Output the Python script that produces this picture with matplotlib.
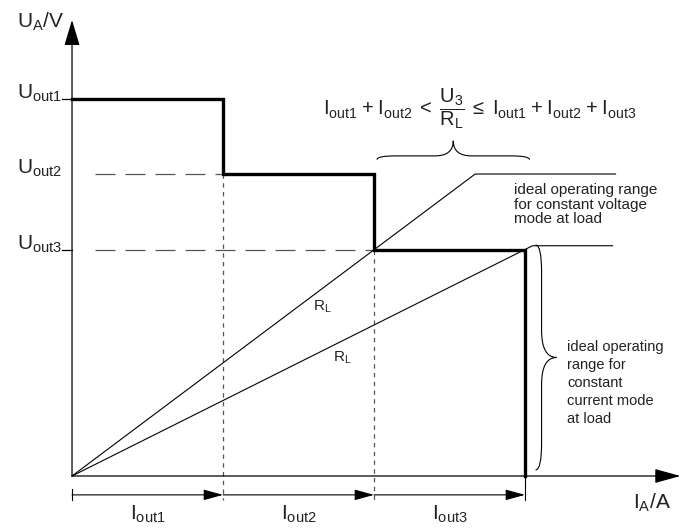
import numpy as np
import matplotlib.pyplot as plt
from matplotlib.path import Path
from matplotlib.patches import PathPatch

plt.rcParams['font.family'] = ['Liberation Sans', 'DejaVu Sans']
plt.rcParams['mathtext.fontset'] = 'custom'
plt.rcParams['mathtext.rm'] = 'Liberation Sans'
plt.rcParams['mathtext.it'] = 'Liberation Sans'

# current limits (A, schematic units) and output voltages (V, schematic units)
i_bounds = [0.0, 1.0, 2.0, 3.0]
u_levels = [5.0, 4.0, 3.0]
u_labels = ['out1', 'out2', 'out3']
i_labels = ['out1', 'out2', 'out3']

# load lines R_L (steep one saturates at Uout2, shallow one at Uout3)
rl_steep_i = [0.0, 2.67, 3.6]
rl_steep_u = [0.0, 4.0, 4.0]
rl_shallow_i = [0.0, 3.05, 3.58]
rl_shallow_u = [0.0, 3.05, 3.05]

txt_col = '#222222'


def brace(ax, a, b, base, flat, tip, vertical=False, **kw):
    # curly brace between a and b along one direction; base/flat/tip across it
    m = (a + b) / 2
    r = (b - a) * 0.12
    pts = [(a, base), (a, flat), (a + r, flat),
           (m - r, flat), (m, flat), (m, tip),
           (m, flat), (m + r, flat),
           (b - r, flat), (b, flat), (b, base)]
    codes = [Path.MOVETO, Path.CURVE3, Path.CURVE3,
             Path.LINETO, Path.CURVE3, Path.CURVE3,
             Path.CURVE3, Path.CURVE3,
             Path.LINETO, Path.CURVE3, Path.CURVE3]
    if vertical:
        pts = [(q, p) for p, q in pts]
    ax.add_patch(PathPatch(Path(pts, codes), fill=False, **kw))


fig = plt.figure(figsize=(6.82, 5.29), dpi=100)
ax = fig.add_axes([0, 0, 1, 1])
ax.set_xlim(-0.477, 4.04)
ax.set_ylim(-0.702, 6.305)
ax.axis('off')

# axes with arrow heads
ax.annotate('', xy=(0, 6.04), xytext=(0, 0),
            arrowprops=dict(arrowstyle='-|>,head_length=0.8,head_width=0.24',
                            mutation_scale=20, lw=0.9, color='k', shrinkA=0, shrinkB=0))
ax.annotate('', xy=(4.03, 0), xytext=(0, 0),
            arrowprops=dict(arrowstyle='-|>,head_length=0.8,head_width=0.22',
                            mutation_scale=20, lw=0.9, color='k', shrinkA=0, shrinkB=0))

# step characteristic
step_i = [i_bounds[0], i_bounds[1], i_bounds[1], i_bounds[2], i_bounds[2], i_bounds[3], i_bounds[3]]
step_u = [u_levels[0], u_levels[0], u_levels[1], u_levels[1], u_levels[2], u_levels[2], 0]
ax.plot(step_i, step_u, color='k', lw=2.4, solid_joinstyle='miter', zorder=4)

# dashed helper lines
ax.plot([0.15, i_bounds[1]], [u_levels[1]] * 2, color='#555555', lw=0.9, dashes=(16, 8))
ax.plot([0.15, i_bounds[2]], [u_levels[2]] * 2, color='#555555', lw=0.9, dashes=(16, 8))
for k in (1, 2):
    ax.plot([i_bounds[k]] * 2, [u_levels[k], -0.32], color='#555555', lw=0.9, dashes=(3.5, 3.5))

# tick marks on voltage axis
for u in (u_levels[0], u_levels[2]):
    ax.plot([-0.066, 0], [u, u], color='k', lw=0.9)

# load lines
ax.plot(rl_steep_i, rl_steep_u, color='k', lw=0.8)
ax.plot(rl_shallow_i, rl_shallow_u, color='k', lw=0.8)

# current intervals below axis
ax.plot([0, 0], [-0.17, -0.32], color='k', lw=0.8)
ax.plot([i_bounds[3]] * 2, [0, -0.32], color='k', lw=0.8)
for k in range(3):
    ax.annotate('', xy=(i_bounds[k + 1], -0.25), xytext=(i_bounds[k], -0.25),
                arrowprops=dict(arrowstyle='-|>,head_length=0.8,head_width=0.22',
                                mutation_scale=15, lw=0.8, color='k', shrinkA=0, shrinkB=0))
    ax.text((i_bounds[k] + i_bounds[k + 1]) / 2, -0.58, r'$\mathrm{I_{%s}}$' % i_labels[k],
            ha='center', va='baseline', fontsize=15, color=txt_col)

for u, lab in zip(u_levels, u_labels):
    ax.text(-0.066, u, r'$\mathrm{U_{%s}}$' % lab, ha='right', va='baseline',
            fontsize=15, color=txt_col)

ax.text(-0.21, 6.01, r'$\mathrm{U_A/V}$', ha='center', va='center', fontsize=15, color=txt_col)
ax.text(3.84, -0.36, r'$\mathrm{I_A/A}$', ha='center', va='center', fontsize=15, color=txt_col)

ax.text(1.66, 2.24, r'$\mathrm{R_L}$', ha='center', va='center', fontsize=11, color=txt_col)
ax.text(1.79, 1.56, r'$\mathrm{R_L}$', ha='center', va='center', fontsize=11, color=txt_col)

# condition above the brace
cond = (r'$\mathrm{I_{out1}\;{+}\;I_{out2}\;{<}\;\dfrac{U_3}{R_L}\;{\leq}\;'
        r'I_{out1}\;{+}\;I_{out2}\;{+}\;I_{out3}}$')
ax.text(1.66, 4.79, cond, ha='left', va='baseline', fontsize=14.5, color=txt_col)
brace(ax, 2.02, 3.03, 4.19, 4.24, 4.44, color='k', lw=0.8)

ax.text(2.93, 3.88, 'ideal operating range\nfor constant voltage\nmode at load',
        ha='left', va='top', fontsize=11, linespacing=1.05, color=txt_col)

brace(ax, 0.08, 3.06, 3.07, 3.11, 3.21, vertical=True, color='k', lw=0.8)
ax.text(3.28, 1.8, 'ideal operating\nrange for\nconstant\ncurrent mode\nat load',
        ha='left', va='top', fontsize=10.5, linespacing=1.35, color=txt_col)

fig.savefig('out.png', dpi=100)
